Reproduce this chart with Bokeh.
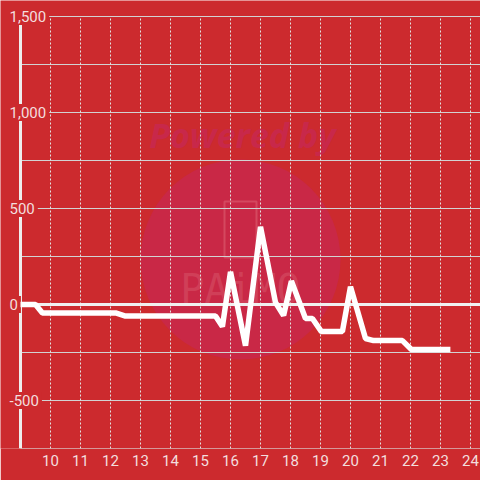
from bokeh.plotting import figure
from bokeh.embed import file_html
from bokeh.resources import INLINE
from bokeh.core.properties import value
from bokeh.models import FixedTicker, Range1d

# ---- data ----
hours = [9.0, 9.5, 9.73, 12.17, 12.5, 15.5, 15.73, 16.0, 16.5, 17.0, 17.5, 17.77,
         18.03, 18.5, 18.73, 19.03, 19.73, 20.0, 20.5, 20.77, 21.73, 22.03, 23.33]
values = [0, 0, -44, -44, -60, -60, -115, 170, -215, 405, 10, -57,
          122, -73, -73, -141, -141, 92, -177, -188, -188, -234, -234]
x_ticks = list(range(10, 25))
y_ticks = [1500, 1000, 500, 0, -500]
y_tick_labels = ["1,500", "1,000", "500", "0", "-500"]
y_grid_levels = [-750, -500, -250, 250, 500, 750, 1000, 1250, 1500]
y_min, y_max = -750, 1500
x_axis_pos = 9

# ---- styles ----
BG = "#cc2a2e"
LABEL = "#f3dede"
GRID = "#d2d2d2"
FONT = "Roboto"
FW, FH = 480, 448
PXX = 30            # px per hour
PXY = 96 / 500      # px per unit

x0 = x_axis_pos - 20 / PXX
x1 = x0 + FW / PXX
y1 = 304 / PXY
y0 = y1 - FH / PXY

def sx(page_x):
    return x0 + page_x / PXX

def sy(page_y):
    return y1 - page_y / PXY

p = figure(frame_width=FW, frame_height=FH, output_backend="svg", toolbar_location=None,
           x_range=Range1d(x0, x1), y_range=Range1d(y0, y1), y_axis_location=None,
           min_border=0, min_border_left=0, min_border_right=0, min_border_top=0,
           min_border_bottom=32)
p.background_fill_color = BG
p.border_fill_color = BG
p.outline_line_color = None
p.xgrid.visible = False
p.ygrid.visible = False

# watermark
p.scatter([sx(240)], [sy(259)], size=200, marker="circle", fill_color="#c92846",
          line_color=None)
p.rect([sx(240)], [sy(229)], width=32, height=56, width_units="screen", height_units="screen",
       fill_color=None, line_color="#d8566a", line_width=2, line_alpha=0.7)
p.text([sx(240)], [sy(288)], text=["PAiMO"], text_align="center", text_baseline="middle",
       text_font=value("DejaVu Sans Mono"), text_font_size="40px", text_color="#d8566a",
       text_alpha=0.5)
p.text([sx(242)], [sy(134)], text=["Powered by"], text_align="center", text_baseline="middle",
       text_font=value("Open Sans"), text_font_style="bold italic", text_font_size="34px",
       text_color="#c8284a")

# grid
p.segment(x0=[x_axis_pos] * len(y_grid_levels), y0=y_grid_levels,
          x1=[x1] * len(y_grid_levels), y1=y_grid_levels, line_color=GRID, line_width=1)
p.segment(x0=x_ticks, y0=[y_min] * len(x_ticks), x1=x_ticks, y1=[y_max] * len(x_ticks),
          line_color="#e2e2e2", line_width=1, line_dash="2 2")
# zero line
p.segment(x0=[x_axis_pos], y0=[0], x1=[x1], y1=[0], line_color="#f0f0f0", line_width=3)
# y axis line
p.segment(x0=[x_axis_pos], y0=[y_min], x1=[x_axis_pos], y1=[y_max],
          line_color="#eeeeee", line_width=3)

# y labels
p.text(x=[x0] * len(y_ticks), y=y_ticks, text=y_tick_labels, text_align="left",
       text_baseline="middle", x_offset=6, text_font=value(FONT), text_font_size="15px",
       text_color=LABEL, background_fill_color=BG, padding=3)

# series
p.line(hours, values, line_color="white", line_width=5.5)

# x axis
p.xaxis.ticker = FixedTicker(ticks=x_ticks)
p.xaxis.axis_line_color = None
p.xaxis.major_tick_line_color = None
p.xaxis.minor_tick_line_color = None
p.xaxis.major_label_text_color = LABEL
p.xaxis.major_label_text_font = FONT
p.xaxis.major_label_text_font_size = "15px"
p.xaxis.major_label_standoff = 0

open("out.html", "w").write(file_html(p, INLINE))
